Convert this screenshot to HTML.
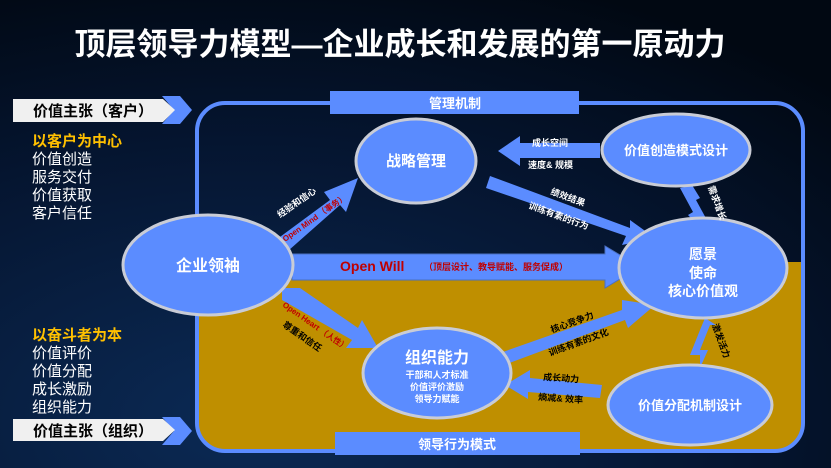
<!DOCTYPE html>
<html><head><meta charset="utf-8"><style>
html,body{margin:0;padding:0;width:831px;height:468px;overflow:hidden;background:#020a18}
svg{display:block}
text{font-family:"Liberation Sans","Noto Sans CJK SC",sans-serif}
</style></head><body>
<svg width="831" height="468" viewBox="0 0 831 468" xmlns="http://www.w3.org/2000/svg">
<defs>
<radialGradient id="bg" cx="0.3" cy="0.9" r="1">
<stop offset="0" stop-color="#0b2a55"/><stop offset="0.6" stop-color="#051530"/><stop offset="1" stop-color="#010812"/>
</radialGradient>
<clipPath id="frame"><rect x="197" y="103" width="606" height="348" rx="28"/></clipPath>
</defs>
<rect width="831" height="468" fill="url(#bg)"/>
<text x="400" y="55" fill="#fff" font-size="31" font-weight="bold" text-anchor="middle">顶层领导力模型—企业成长和发展的第一原动力</text>

<rect x="197" y="262" width="606" height="190" fill="#bf8f00" clip-path="url(#frame)"/>
<rect x="197" y="103" width="606" height="348" rx="28" fill="none" stroke="#5b8cff" stroke-width="4"/>

<rect x="330" y="91" width="249" height="23" fill="#5b8cff"/>
<text x="455" y="108" fill="#fff" font-size="13" font-weight="bold" text-anchor="middle">管理机制</text>
<rect x="335" y="432" width="245" height="23" fill="#5b8cff"/>
<text x="457" y="449" fill="#fff" font-size="13" font-weight="bold" text-anchor="middle">领导行为模式</text>

<polygon points="162,96 180,96 192,110 180,124 162,124 174,110" fill="#5b8cff"/>
<polygon points="13,99 163,99 175,110 163,122 13,122" fill="#f0f0f0"/>
<text x="33" y="116" fill="#000" font-size="15" font-weight="bold">价值主张（客户）</text>
<polygon points="162,417 180,417 192,431 180,445 162,445 174,431" fill="#5b8cff"/>
<polygon points="13,419 163,419 175,430 163,441 13,441" fill="#f0f0f0"/>
<text x="33" y="436" fill="#000" font-size="15" font-weight="bold">价值主张（组织）</text>

<g font-size="15" fill="#fff">
<text x="32" y="146" fill="#ffc000" font-weight="bold">以客户为中心</text>
<text x="32" y="164">价值创造</text>
<text x="32" y="182">服务交付</text>
<text x="32" y="200">价值获取</text>
<text x="32" y="218">客户信任</text>
<text x="32" y="340" fill="#ffc000" font-weight="bold">以奋斗者为本</text>
<text x="32" y="358">价值评价</text>
<text x="32" y="376">价值分配</text>
<text x="32" y="394">成长激励</text>
<text x="32" y="412">组织能力</text>
</g>

<g fill="#5b8cff">
<polygon points="292,254 605,254 605,246 640,267 605,288 605,280 292,280" stroke="#4a6fc0" stroke-width="1"/>
<polygon points="265,248 330,200 324,192 358,178 346,212 340,205 280,258"/>
<polygon points="282,288 282,300 352,340 346,348 378,348 362,320 358,328 300,288"/>
<polygon points="600,143 520,143 520,136 498,151 520,166 520,158 600,158"/>
<polygon points="490,176 486,188 626,236 622,245 655,238 630,220 630,228"/>
<polygon points="500,353 504,365 625,320 628,328 655,305 622,300 622,310"/>
<polygon points="602,385 530,378 530,370 505,385 528,399 528,392 600,398"/>
<polygon points="680,188 693,212 688,215 700,228 703,226 707,230 698,232 708,232 705,224 708,222 696,200 700,198 692,185"/>
<polygon points="700,330 690,355 700,355 700,368 708,350 700,350 710,325 716,325 705,318"/>
</g>

<g fill="#5b8cff" stroke="#c9ccd6" stroke-width="3">
<ellipse cx="416" cy="161" rx="60" ry="42"/>
<ellipse cx="676" cy="150" rx="74" ry="36"/>
<ellipse cx="208" cy="265" rx="85" ry="50"/>
<ellipse cx="703" cy="268" rx="84" ry="50"/>
<ellipse cx="437" cy="373" rx="74" ry="45"/>
<ellipse cx="690" cy="405" rx="82" ry="40"/>
</g>

<g fill="#fff" font-weight="bold" text-anchor="middle">
<text x="416" y="166" font-size="15">战略管理</text>
<text x="676" y="155" font-size="13">价值创造模式设计</text>
<text x="208" y="271" font-size="16">企业领袖</text>
<text x="703" y="259" font-size="14">愿景</text>
<text x="703" y="278" font-size="14">使命</text>
<text x="703" y="296" font-size="14">核心价值观</text>
<text x="437" y="363" font-size="16">组织能力</text>
<text x="437" y="378" font-size="9">干部和人才标准</text>
<text x="437" y="390" font-size="9">价值评价激励</text>
<text x="437" y="402" font-size="9">领导力赋能</text>
<text x="690" y="410" font-size="13">价值分配机制设计</text>
</g>

<g font-size="9" font-weight="bold" fill="#fff">
<text x="532" y="146">成长空间</text>
<text x="528" y="168">速度&amp; 规模</text>
<text transform="translate(550,194) rotate(20)">绩效结果</text>
<text transform="translate(528,208) rotate(20)">训练有素的行为</text>
<text transform="translate(280,218) rotate(-35)">经验和信心</text>
<text transform="translate(285,242) rotate(-35)" fill="#c00000" font-size="8">Open Mind （事务）</text>
<text transform="translate(282,306) rotate(35)" fill="#c00000" font-size="8">Open Heart （人性）</text>
<text transform="translate(282,326) rotate(35)" fill="#000">尊重和信任</text>
<text transform="translate(552,333) rotate(-20)" fill="#000">核心竞争力</text>
<text transform="translate(550,356) rotate(-20)" fill="#000">训练有素的文化</text>
<text transform="translate(543,380) rotate(4)" fill="#000">成长动力</text>
<text transform="translate(538,400) rotate(4)" fill="#000">熵减&amp; 效率</text>
<text transform="translate(708,187) rotate(70)">需求增长</text>
<text transform="translate(712,325) rotate(70)" fill="#000">激发活力</text>
</g>
<text x="340" y="271" fill="#c00000" font-size="14" font-weight="bold">Open Will</text>
<text x="424" y="270" fill="#c00000" font-size="9" font-weight="bold">（顶层设计、教导赋能、服务促成）</text>
</svg>
</body></html>
